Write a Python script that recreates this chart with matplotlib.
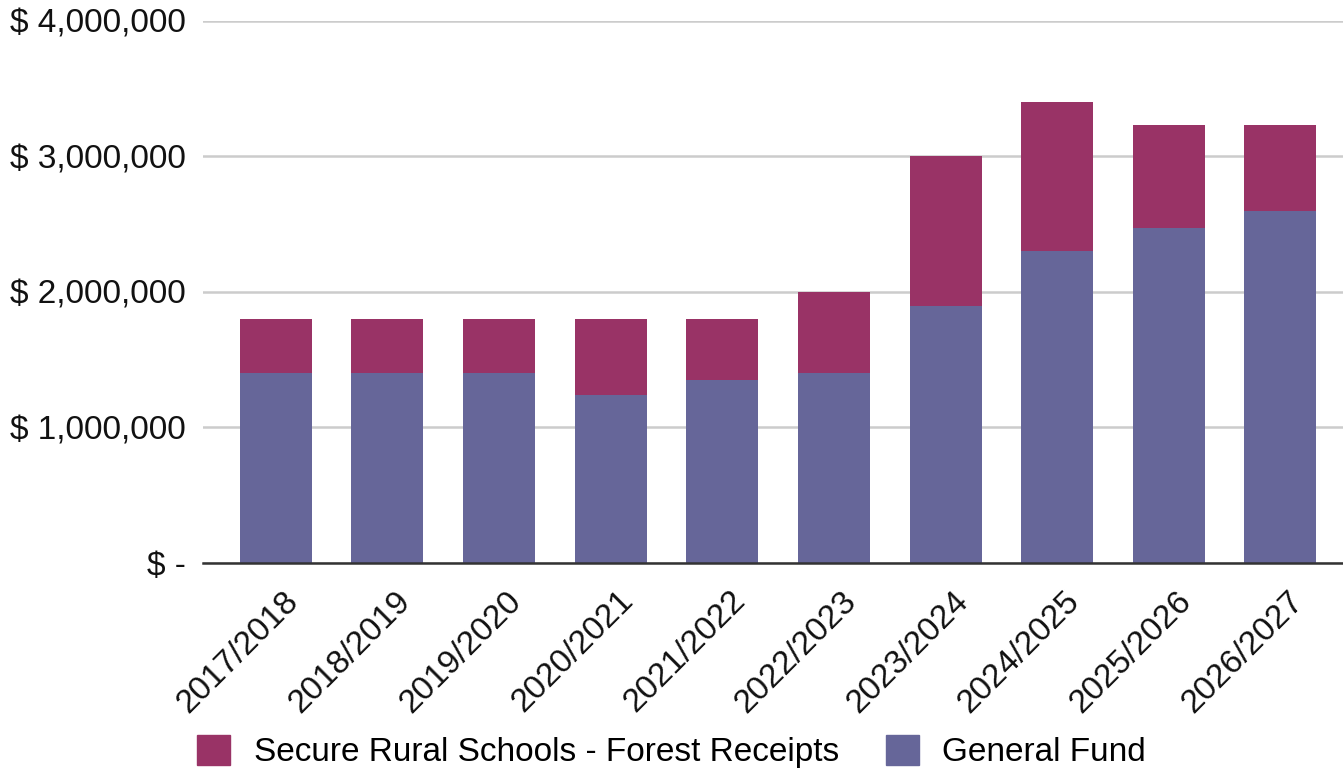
import matplotlib.pyplot as plt
import matplotlib.transforms as mtransforms
from matplotlib.ticker import FuncFormatter, MultipleLocator
from matplotlib.patches import Patch

plt.rcParams['font.family'] = ['Liberation Sans', 'DejaVu Sans']

years = ["2017/2018", "2018/2019", "2019/2020", "2020/2021", "2021/2022",
         "2022/2023", "2023/2024", "2024/2025", "2025/2026", "2026/2027"]
general_fund = [1400000, 1400000, 1400000, 1240000, 1350000,
                1400000, 1900000, 2300000, 2475000, 2600000]
forest_receipts = [400000, 400000, 400000, 560000, 450000,
                   600000, 1100000, 1100000, 760000, 635000]

GF_COLOR = "#666699"
SRS_COLOR = "#993366"

fig = plt.figure(figsize=(13.43, 7.68), dpi=100)
ax = fig.add_axes([0.151, 0.267, 0.849, 0.7057])

x = list(range(len(years)))
ax.bar(x, general_fund, width=0.645, color=GF_COLOR, zorder=2)
ax.bar(x, forest_receipts, width=0.645, bottom=general_fund, color=SRS_COLOR, zorder=2)

ax.set_xlim(-0.654, 9.56)
ax.set_ylim(0, 4000000)
ax.yaxis.set_major_locator(MultipleLocator(1000000))


def money(v, pos):
    if v == 0:
        return "$ -"
    return f"$ {v:,.0f}"


ax.yaxis.set_major_formatter(FuncFormatter(money))
ax.grid(axis="y", color="#cccccc", linewidth=1.8, zorder=0)
for side in ("top", "right", "left"):
    ax.spines[side].set_visible(False)
ax.spines["bottom"].set_color("#333333")
ax.spines["bottom"].set_linewidth(1.8)
ax.spines["bottom"].set_zorder(3)

ax.tick_params(axis="y", length=0, pad=12, labelsize=24, labelcolor="#111111")
ax.tick_params(axis="x", length=0, pad=6, labelsize=24, labelcolor="#111111")
ax.set_xticks(x)
ax.set_xticklabels(years, rotation=45, ha="right", rotation_mode="anchor")
# nudge the slanted year labels so their ends sit under each bar
shift = mtransforms.ScaledTranslation(7 / 100, -14 / 100, fig.dpi_scale_trans)
for lbl in ax.get_xticklabels():
    lbl.set_transform(lbl.get_transform() + shift)

handles = [Patch(color=SRS_COLOR, label="Secure Rural Schools - Forest Receipts"),
           Patch(color=GF_COLOR, label="General Fund")]
fig.legend(handles=handles, loc="lower left", bbox_to_anchor=(0.1467, 0.0),
           ncol=2, frameon=False, fontsize=24, handlelength=1.0, handleheight=1.0,
           handletextpad=0.7, columnspacing=1.4, borderpad=0, borderaxespad=0)

fig.savefig("out.png", dpi=100)
